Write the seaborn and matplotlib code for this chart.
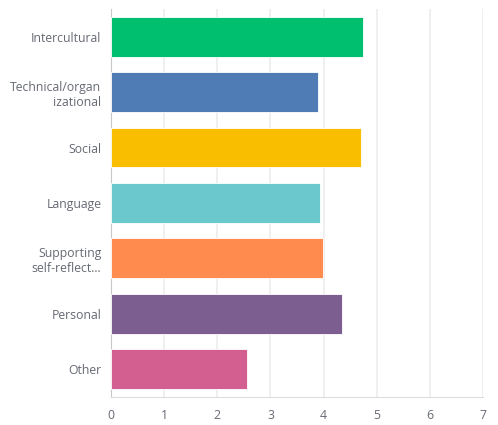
import matplotlib
matplotlib.use("Agg")
import matplotlib.pyplot as plt
import seaborn as sns
import pandas as pd

# Values
categories = ["Intercultural", "Technical/organ\nizational", "Social", "Language",
              "Supporting\nself-reflect...", "Personal", "Other"]
scores = [4.75, 3.90, 4.71, 3.94, 3.99, 4.35, 2.56]
colors = ["#00BF6F", "#507CB6", "#F9BE00", "#6BC8CD", "#FF8B4F", "#7D5E90", "#D25F90"]
x_ticks = [0, 1, 2, 3, 4, 5, 6, 7]

df = pd.DataFrame({"category": categories, "score": scores})

sns.set_style("white")
plt.rcParams["font.family"] = ["Open Sans", "DejaVu Sans"]

fig, ax = plt.subplots(figsize=(4.98, 4.25), dpi=100)
fig.subplots_adjust(left=0.223, right=0.97, top=0.979, bottom=0.066)

sns.barplot(data=df, x="score", y="category", hue="category", palette=colors,
            legend=False, width=0.72, ax=ax, saturation=1)
for bar in ax.patches:
    bar.set_edgecolor("white")
    bar.set_linewidth(0.6)
    bar.set_zorder(3)

ax.set_xlim(0, 7)
ax.set_ylim(6.5, -0.5)
ax.set_xticks(x_ticks)
ax.grid(axis="x", color="#ececec", linewidth=1.2, zorder=0)
ax.set_axisbelow(True)
ax.set_xlabel("")
ax.set_ylabel("")

for side in ["top", "right"]:
    ax.spines[side].set_visible(False)
ax.spines["left"].set_color("#c8c8c8")
ax.spines["bottom"].set_color("#dcdcdc")

ax.tick_params(axis="both", length=0, labelcolor="#666a73", labelsize=8.8)
ax.tick_params(axis="x", pad=8.5)
ax.tick_params(axis="y", pad=7)

plt.savefig("out.png", dpi=100)
